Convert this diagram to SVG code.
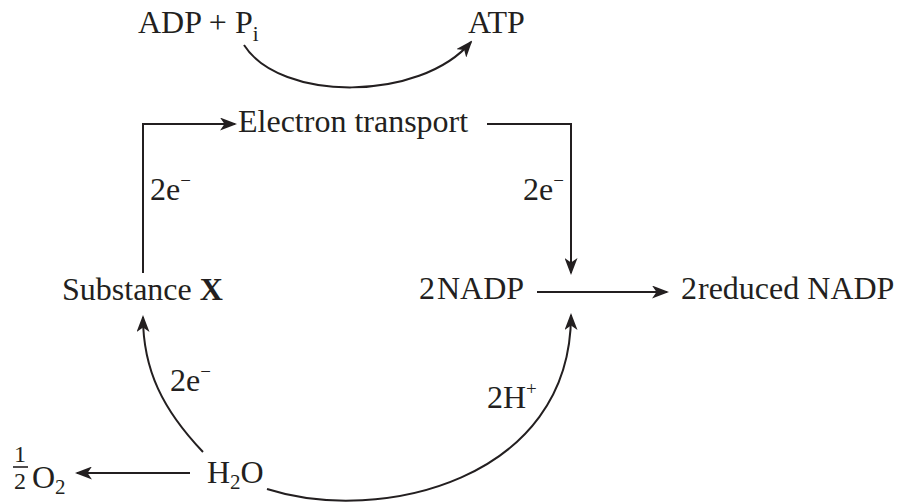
<svg xmlns="http://www.w3.org/2000/svg" width="904" height="504" viewBox="0 0 904 504">
<style>
text{font-family:"Liberation Serif","Times New Roman",serif;font-size:32px;fill:#231f20}
.sub{font-size:21px}
.sup{font-size:19px}
.frac{font-size:24px}
.ln{fill:none;stroke:#231f20;stroke-width:2}
</style>
<defs>
<marker id="ah" markerUnits="userSpaceOnUse" markerWidth="17" markerHeight="13" refX="15" refY="6.5" orient="auto" viewBox="0 0 17 13">
<path d="M0,0 L17,6.5 L0,13 L4.5,6.5 z" fill="#231f20"/>
</marker>
</defs>
<rect width="904" height="504" fill="#fff"/>
<g id="adp"><text x="138" y="33">ADP + P<tspan class="sub" dy="8">i</tspan></text></g>
<g id="atp"><text x="468" y="33">ATP</text></g>
<g id="et"><text x="238" y="132">Electron transport</text></g>
<g id="subx"><text x="62" y="300">Substance <tspan font-weight="bold">X</tspan></text></g>
<g id="nadp"><text x="419" y="299">2<tspan dx="2">NADP</tspan></text></g>
<g id="rnadp"><text x="681" y="299">2<tspan dx="1">reduced NADP</tspan></text></g>
<g id="h2o"><text x="207" y="483">H<tspan class="sub" dy="6">2</tspan><tspan dy="-6">O</tspan></text></g>
<g id="o2">
<text class="frac" x="14" y="462">1</text>
<line x1="13" y1="467" x2="28" y2="467" stroke="#231f20" stroke-width="1.6"/>
<text class="frac" x="14" y="489">2</text>
<text x="32" y="488">O<tspan class="sub" dy="6">2</tspan></text>
</g>
<g id="connectors">
<path class="ln" d="M244,45 C280,102 420,102 471,42" marker-end="url(#ah)"/>
<path class="ln" d="M143,273 V124 H235" marker-end="url(#ah)"/>
<path class="ln" d="M487,124 H571 V273" marker-end="url(#ah)"/>
<path class="ln" d="M537,292 H667" marker-end="url(#ah)"/>
<path class="ln" d="M203,452 C163,410 143,370 143,317" marker-end="url(#ah)"/>
<path class="ln" d="M267,489 C380,525 571,480 571,315" marker-end="url(#ah)"/>
<path class="ln" d="M190,473 H77" marker-end="url(#ah)"/>
</g>
<g id="labels">
<text x="150" y="200">2e<tspan class="sup" dy="-13">−</tspan></text>
<text x="523" y="200">2e<tspan class="sup" dy="-13">−</tspan></text>
<text x="170" y="391">2e<tspan class="sup" dy="-13">−</tspan></text>
<text x="487" y="408">2H<tspan class="sup" dy="-13">+</tspan></text>
</g>
</svg>
